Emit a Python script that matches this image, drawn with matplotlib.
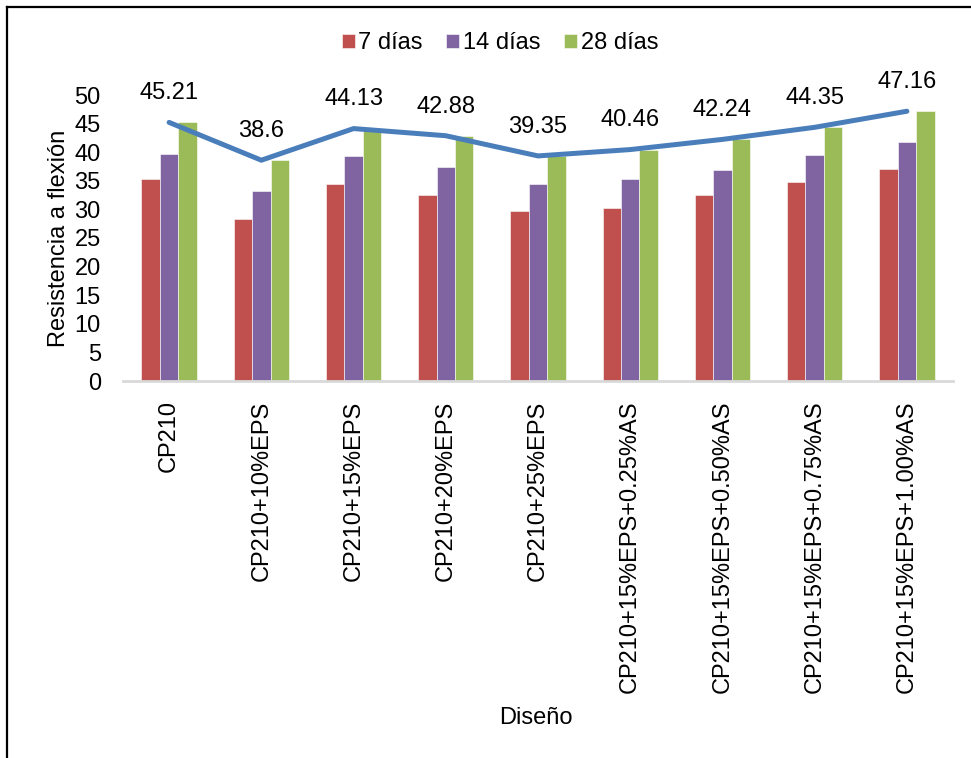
import numpy as np
import matplotlib
matplotlib.use("Agg")
import matplotlib.pyplot as plt
from matplotlib.lines import Line2D

plt.rcParams['font.family'] = ['Liberation Sans', 'DejaVu Sans']

# flexural strength per mix design
designs = ['CP210', 'CP210+10%EPS', 'CP210+15%EPS', 'CP210+20%EPS', 'CP210+25%EPS',
           'CP210+15%EPS+0.25%AS', 'CP210+15%EPS+0.50%AS', 'CP210+15%EPS+0.75%AS',
           'CP210+15%EPS+1.00%AS']
dias_7 = [35.3, 28.4, 34.5, 32.6, 29.7, 30.2, 32.6, 34.8, 37.1]
dias_14 = [39.6, 33.3, 39.3, 37.5, 34.5, 35.3, 36.9, 39.5, 41.7]
dias_28 = [45.21, 38.6, 44.13, 42.88, 39.35, 40.46, 42.24, 44.35, 47.16]
series_labels = ['7 días', '14 días', '28 días']
colors = ['#C0504D', '#8064A2', '#9BBB59']
line_color = '#4A7EBB'

W, H = 971, 758
fig = plt.figure(figsize=(W / 100, H / 100), dpi=100)
ax = fig.add_axes([123 / W, 1 - 381 / H, (953 - 123) / W, (381 - 95) / H])

x = np.arange(len(designs))
bw = 0.2
for i, (vals, lab, col) in enumerate(zip([dias_7, dias_14, dias_28], series_labels, colors)):
    ax.bar(x + (i - 1) * bw, vals, bw, color=col, label=lab, edgecolor='white', linewidth=0.4, zorder=2)

ax.plot(x, dias_28, color=line_color, lw=3.6, solid_capstyle='round', zorder=3)
for xi, v in zip(x, dias_28):
    ax.annotate(f'{v:g}', (xi, v), xytext=(0, 21), textcoords='offset points',
                ha='center', va='center', fontsize=17, clip_on=False, annotation_clip=False)

ax.set_xlim(-0.5, len(designs) - 0.5)
ax.set_ylim(0, 50)
ax.set_yticks(range(0, 51, 5))
ax.set_xticks(x)
ax.set_xticklabels(designs, rotation=90)
ax.tick_params(axis='both', length=0, labelsize=17)
ax.tick_params(axis='x', pad=14)
ax.tick_params(axis='y', pad=16)

for s in ['top', 'right', 'left']:
    ax.spines[s].set_visible(False)
ax.spines['bottom'].set_color('#D9D9D9')
ax.spines['bottom'].set_linewidth(2)

ax.set_ylabel('Resistencia a flexión', fontsize=17, labelpad=3)
fig.text(536 / W, 1 - 718 / H, 'Diseño', ha='center', va='center', fontsize=17)

ax.legend(loc='center', bbox_to_anchor=(500 / W, 1 - 43 / H), bbox_transform=fig.transFigure,
          ncol=3, frameon=False, fontsize=17, handlelength=0.55, handleheight=0.55,
          handletextpad=0.15, columnspacing=1.0)

# outer frame (top and left edges)
fig.add_artist(Line2D([7 / W, 1.01], [1 - 7 / H, 1 - 7 / H], color='black', lw=1.6, transform=fig.transFigure))
fig.add_artist(Line2D([7 / W, 7 / W], [-0.01, 1 - 7 / H], color='black', lw=1.6, transform=fig.transFigure))

fig.savefig('out.png', dpi=100)
